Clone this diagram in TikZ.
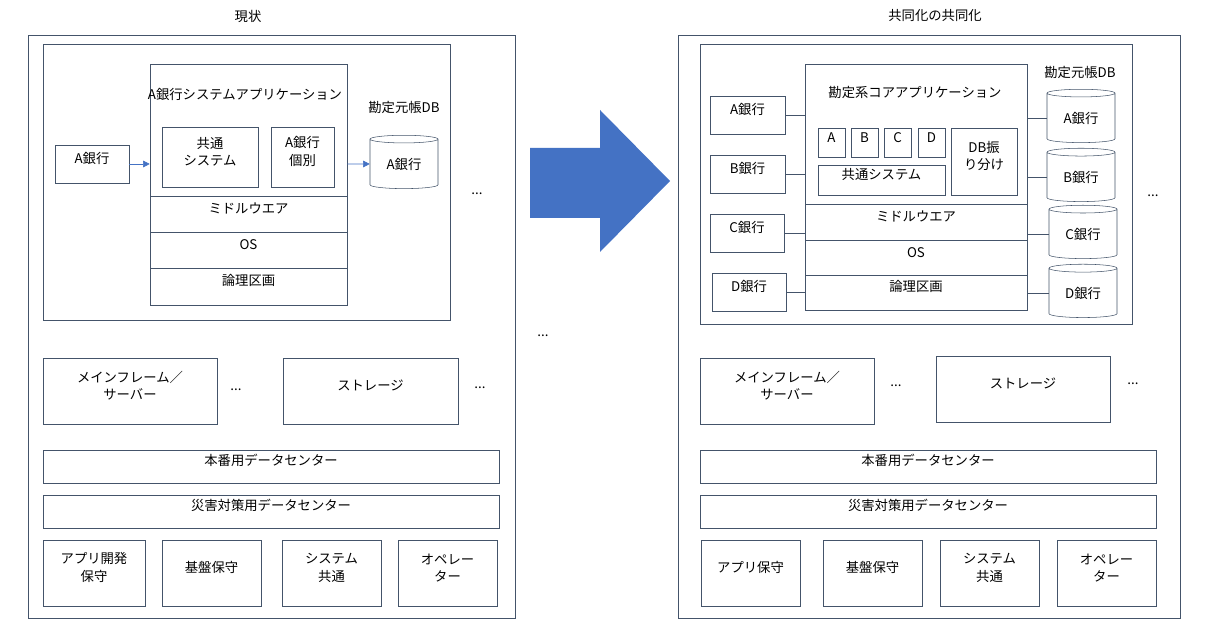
\documentclass[tikz,border=0pt]{standalone}
\usepackage{fontspec}
\setmainfont{Noto Sans CJK JP}
\usetikzlibrary{shapes.geometric,arrows.meta,fit}
\definecolor{edge}{HTML}{44546A}
\definecolor{bigarrow}{HTML}{4472C4}
\tikzstyle{every node}=[font=\fontsize{10}{13}\selectfont]
\tikzstyle{block} = [rectangle, draw=edge, inner sep=0pt, align=center]
\tikzstyle{db} = [cylinder, draw=edge, shape border rotate=90, aspect=0.22,
    minimum width=51pt, minimum height=40pt, inner sep=0pt, align=center]
\tikzstyle{line} = [draw=edge, thin]
\tikzstyle{arrow} = [draw=bigarrow, -{Triangle[length=5pt,width=5pt]}]
\newcommand{\bx}[6]{\node [block, fit={(#2,#3) (#4,#5)}] (#1) {#6};}
\begin{document}
\begin{tikzpicture}[x=0.75pt, y=-0.75pt]
    \useasboundingbox (0,0) rectangle (1213,630);
    % left: current
    \node at (248,16) {現状};
    \bx{lout}{28}{35}{515}{618}{}
    \bx{lin}{43}{44}{450}{320}{}
    \bx{lapp}{150}{64}{347}{196}{}
    \node at (245,94) {A銀行システム\\アプリケーション};
    \bx{lcommon}{162}{127}{258}{187}{共通\\システム}
    \bx{lown}{271}{127}{334}{187}{A銀行\\個別}
    \bx{lmid}{150}{196}{347}{232}{ミドルウエア}
    \bx{los}{150}{232}{347}{268}{OS}
    \bx{lpart}{150}{268}{347}{305}{論理区画}
    \bx{lbank}{55}{145}{129}{183}{A銀行}
    \node [db] (ldb) at (404,164) {A銀行};
    \node at (404,107) {勘定元帳\\DB};
    \node at (477,194) {...};
    \bx{lmain}{43}{358}{217}{424}{メインフレーム／\\サーバー}
    \node at (236,390) {...};
    \bx{lstore}{283}{358}{458}{424}{ストレージ}
    \node at (480,388) {...};
    \bx{lprod}{43}{450}{499}{483}{本番用データセンター}
    \bx{ldr}{43}{495}{499}{528}{災害対策用データセンター}
    \bx{lapm}{43}{540}{145}{606}{アプリ開発\\保守}
    \bx{lbase}{162}{540}{261}{606}{基盤保守}
    \bx{lsys}{282}{540}{381}{606}{システム\\共通}
    \bx{lope}{398}{540}{497}{606}{オペレー\\ター}
    \path [arrow] (lbank) -- (lbank -| lapp.west);
    \path [arrow] (lapp.east |- ldb) -- (ldb);
    % middle
    \node at (543,336) {...};
    \fill [bigarrow] (530,148) -- (600,148) -- (600,110) -- (670,181)
        -- (600,252) -- (600,218) -- (530,218) -- cycle;
    % right: shared
    \node at (935,16) {共同化の共同化};
    \bx{rout}{678}{35}{1180}{618}{}
    \bx{rin}{700}{44}{1132}{324}{}
    \bx{rapp}{805}{64}{1027}{204}{}
    \node at (915,92) {勘定系コア\\アプリケーション};
    \bx{ra}{818}{128}{845}{157}{A}
    \bx{rb}{851}{128}{878}{157}{B}
    \bx{rc}{884}{128}{911}{157}{C}
    \bx{rd}{918}{128}{945}{157}{D}
    \bx{rcommon}{818}{165}{945}{195}{共通システム}
    \bx{rsplit}{951}{128}{1017}{195}{DB振\\り分け}
    \bx{rmid}{805}{204}{1027}{240}{ミドルウエア}
    \bx{ros}{805}{240}{1027}{275}{OS}
    \bx{rpart}{805}{275}{1027}{310}{論理区画}
    \bx{rbanka}{710}{96}{785}{134}{A銀行}
    \bx{rbankb}{710}{155}{785}{193}{B銀行}
    \bx{rbankc}{710}{214}{784}{252}{C銀行}
    \bx{rbankd}{712}{273}{786}{311}{D銀行}
    \node [db] (rdba) at (1081,118) {A銀行};
    \node [db] (rdbb) at (1081,177) {B銀行};
    \node [db] (rdbc) at (1083,234) {C銀行};
    \node [db] (rdbd) at (1083,293) {D銀行};
    \node at (1080,72) {勘定元帳\\DB};
    \node at (1153,196) {...};
    \bx{rmain}{700}{358}{874}{424}{メインフレーム／\\サーバー}
    \node at (896,386) {...};
    \bx{rstore}{936}{356}{1110}{422}{ストレージ}
    \node at (1133,384) {...};
    \bx{rprod}{700}{450}{1156}{483}{本番用データセンター}
    \bx{rdr}{700}{495}{1156}{528}{災害対策用データセンター}
    \bx{rapm}{701}{540}{800}{606}{アプリ保守}
    \bx{rbase}{823}{540}{922}{606}{基盤保守}
    \bx{rsys}{940}{540}{1039}{606}{システム\\共通}
    \bx{rope}{1057}{540}{1156}{606}{オペレー\\ター}
    % connections
    \foreach \b in {a,b,c,d} {
        \path [line] (rbank\b.east) -- (rbank\b.east -| rapp.west);
        \path [line] (rdb\b.west -| rapp.east) -- (rdb\b.west);
    }
\end{tikzpicture}
\end{document}
